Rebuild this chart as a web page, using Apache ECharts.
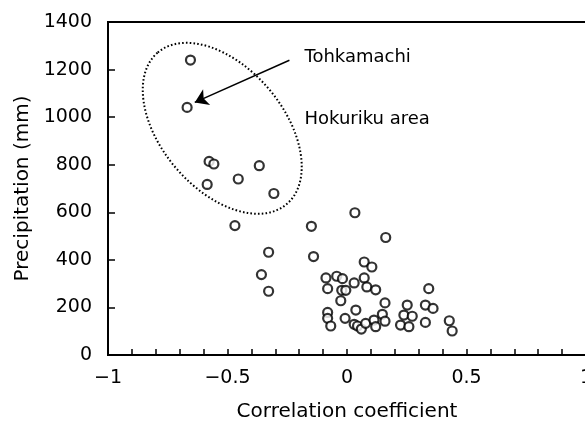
<!DOCTYPE html>
<html>
<head>
<meta charset="utf-8">
<style>html,body{margin:0;padding:0;background:#fff;}#c{width:585px;height:430px;}</style>
<script src="https://cdn.jsdelivr.net/npm/echarts@6/dist/echarts.min.js"></script>
</head>
<body>
<div id="c"></div>
<script>
// Correlation coefficient (x) and precipitation in mm (y) for each site
const corrCoef = [
  -0.655, -0.669, -0.577, -0.557, -0.367, -0.455, -0.585, -0.306,
  -0.469, -0.149, 0.033, 0.162, -0.328, -0.140, 0.072, 0.104, -0.358, -0.328,
  -0.088, -0.043, -0.019, 0.072, 0.030, -0.081, -0.022, -0.005, 0.083, 0.120,
  -0.026, 0.159, -0.081, -0.081, -0.068, 0.037, -0.008, 0.030, 0.044, 0.060,
  0.078, 0.113, 0.120, 0.148, 0.159, 0.342, 0.252, 0.328, 0.360, 0.238,
  0.273, 0.224, 0.259, 0.328, 0.428, 0.440
];
const precipitation = [
  1240, 1041, 814, 803, 796, 740, 717, 679,
  544, 541, 598, 494, 432, 414, 391, 370, 338, 268,
  324, 331, 321, 324, 303, 279, 272, 272, 286, 274,
  228, 219, 179, 154, 122, 189, 154, 129, 122, 109,
  133, 147, 119, 171, 142, 279, 210, 210, 196, 168,
  163, 126, 119, 137, 144, 101
];
const xTickLabels = {'-10': '\u22121', '-5': '\u22120.5', '0': '0', '5': '0.5', '10': '1'};
const yTickValues = [0, 200, 400, 600, 800, 1000, 1200, 1400];
// annotation anchors (data space)
const arrowFrom = [-0.241, 1239];
const arrowTo = [-0.637, 1062];
const labelTohkamachi = {text: 'Tohkamachi', at: [-0.178, 1250]};
const labelHokuriku = {text: 'Hokuriku area', at: [-0.178, 989]};
const ellipseCenter = [-0.522, 953];

const FONT = '"DejaVu Sans", sans-serif';
const points = corrCoef.map((x, i) => [x, precipitation[i]]);

const chart = echarts.init(document.getElementById('c'), null, {renderer: 'canvas'});
chart.setOption({
  animation: false,
  backgroundColor: '#fff',
  grid: {left: 108, top: 22, width: 478, bottom: 75, outerBoundsMode: 'none', containLabel: false,
    show: true, borderColor: '#000', borderWidth: 2, backgroundColor: 'transparent'},
  xAxis: {
    type: 'value', min: -1, max: 1, interval: 0.1,
    name: 'Correlation coefficient', nameLocation: 'middle', nameGap: 47,
    nameTextStyle: {fontFamily: FONT, fontSize: 20, color: '#000'},
    axisLine: {onZero: false, lineStyle: {color: '#000', width: 2}},
    axisTick: {inside: true, length: 6, lineStyle: {color: '#000', width: 1.5}},
    axisLabel: {
      margin: 14, fontFamily: FONT, fontSize: 19, color: '#000', showMaxLabel: true, showMinLabel: true, hideOverlap: false,
      formatter: v => { const k = String(Math.round(v * 10)); return xTickLabels[k] !== undefined ? xTickLabels[k] : ''; }
    },
    splitLine: {show: false}
  },
  yAxis: {
    type: 'value', min: yTickValues[0], max: yTickValues[yTickValues.length - 1], interval: 200,
    name: 'Precipitation (mm)', nameLocation: 'middle', nameGap: 72,
    nameTextStyle: {fontFamily: FONT, fontSize: 20, color: '#000'},
    axisLine: {show: true, onZero: false, lineStyle: {color: '#000', width: 2}},
    axisTick: {show: true, inside: true, length: 7, lineStyle: {color: '#000', width: 1.5}},
    axisLabel: {margin: 16, fontFamily: FONT, fontSize: 19, color: '#000', formatter: v => String(v)},
    splitLine: {show: false}
  },
  series: [{
    type: 'scatter',
    data: points,
    symbol: 'circle',
    symbolSize: 9,
    itemStyle: {color: '#fff', borderColor: '#000', borderWidth: 2.2},
    markLine: {
      silent: true,
      symbol: ['none', 'arrow'],
      symbolSize: 13,
      label: {show: false},
      emphasis: {disabled: true},
      lineStyle: {color: '#000', width: 1.5, type: 'solid'},
      data: [[{coord: arrowFrom}, {coord: arrowTo}]]
    }
  }]
});

const c = chart.convertToPixel({gridIndex: 0}, ellipseCenter);
const t1 = chart.convertToPixel({gridIndex: 0}, labelTohkamachi.at);
const t2 = chart.convertToPixel({gridIndex: 0}, labelHokuriku.at);
chart.setOption({
  graphic: [
    {type: 'ellipse', x: c[0], y: c[1], rotation: -49.6 * Math.PI / 180, z: 1,
      shape: {cx: 0, cy: 0, rx: 99.5, ry: 61},
      style: {fill: 'none', stroke: '#000', lineWidth: 2, lineDash: [1.6, 2.2]}},
    {type: 'text', x: t1[0], y: t1[1], z: 10,
      style: {text: labelTohkamachi.text, fontFamily: FONT, fontSize: 18, fill: '#000', verticalAlign: 'middle'}},
    {type: 'text', x: t2[0], y: t2[1], z: 10,
      style: {text: labelHokuriku.text, fontFamily: FONT, fontSize: 18, fill: '#000', verticalAlign: 'middle'}}
  ]
});
</script>
</body>
</html>
